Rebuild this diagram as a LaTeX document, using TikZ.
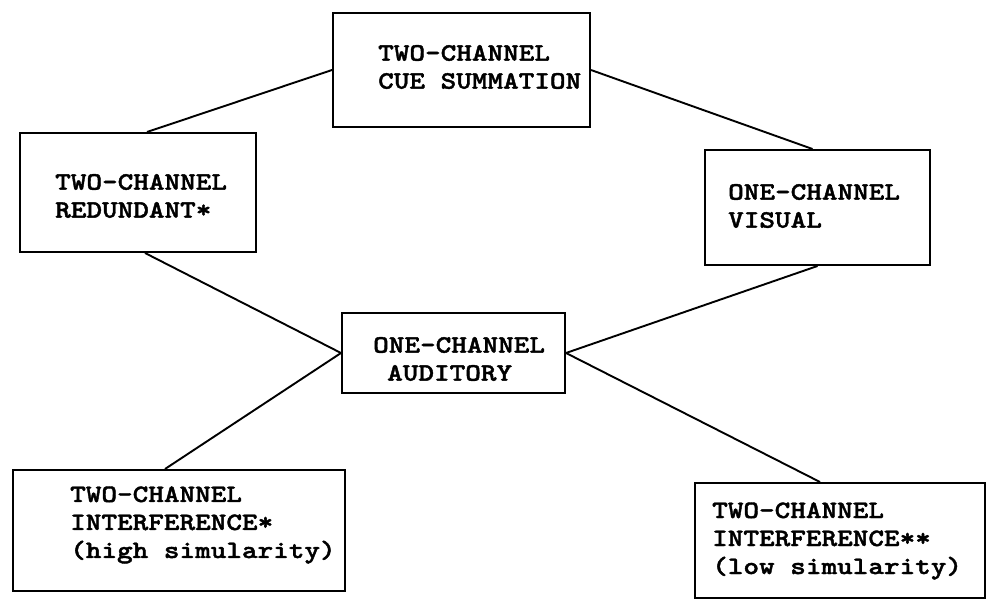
\documentclass[tikz,border=0pt]{standalone}
\usepackage{fontspec}
\newfontfamily\typew{lmmonolt10-bold.otf}[FakeStretch=1.19,FakeBold=1.6]
\begin{document}
\begin{tikzpicture}[x=1pt,y=-1pt,
  box/.style={draw=black, line width=2pt, rectangle, inner sep=0pt},
  lbl/.style={anchor=west, align=left, inner sep=0pt, font=\typew\fontsize{25}{28}\selectfont},
  conn/.style={draw=black, line width=1.9pt}]
\useasboundingbox[fill=white] (0,0) rectangle (989,601);
% boxes
\node[box, minimum width=257pt, minimum height=114pt] (top) at (461.5,70) {};
\node[box, minimum width=236pt, minimum height=119pt] (red) at (138,192.5) {};
\node[box, minimum width=225pt, minimum height=115pt] (vis) at (817.5,207.5) {};
\node[box, minimum width=223pt, minimum height=80pt] (aud) at (453.5,353) {};
\node[box, minimum width=332pt, minimum height=121pt] (hi) at (179,530.5) {};
\node[box, minimum width=290pt, minimum height=115pt] (lo) at (840,540.5) {};
% labels
\node[lbl] (ttop) at (378,67) {TWO-CHANNEL\\CUE SUMMATION};
\node[lbl] (tred) at (55,196) {TWO-CHANNEL\\REDUNDANT*};
\node[lbl] (tvis) at (728,206) {ONE-CHANNEL\\VISUAL};
\node[lbl] (taud) at (373,359) {ONE-CHANNEL\\\hspace*{14pt}AUDITORY};
\node[lbl] (thi) at (70,525) {TWO-CHANNEL\\INTERFERENCE*\\(high simularity)};
\node[lbl] (tlo) at (712,541) {TWO-CHANNEL\\INTERFERENCE**\\(low simularity)};
% connectors
\draw[conn] (top.west) -- ([xshift=9pt]red.north);
\draw[conn] (top.east) -- ([xshift=-5pt]vis.north);
\draw[conn] ([xshift=7pt]red.south) -- (aud.west);
\draw[conn] (vis.south) -- (aud.east);
\draw[conn] (aud.west) -- ([xshift=-14pt]hi.north);
\draw[conn] (aud.east) -- ([xshift=-20pt]lo.north);
\end{tikzpicture}
\end{document}
